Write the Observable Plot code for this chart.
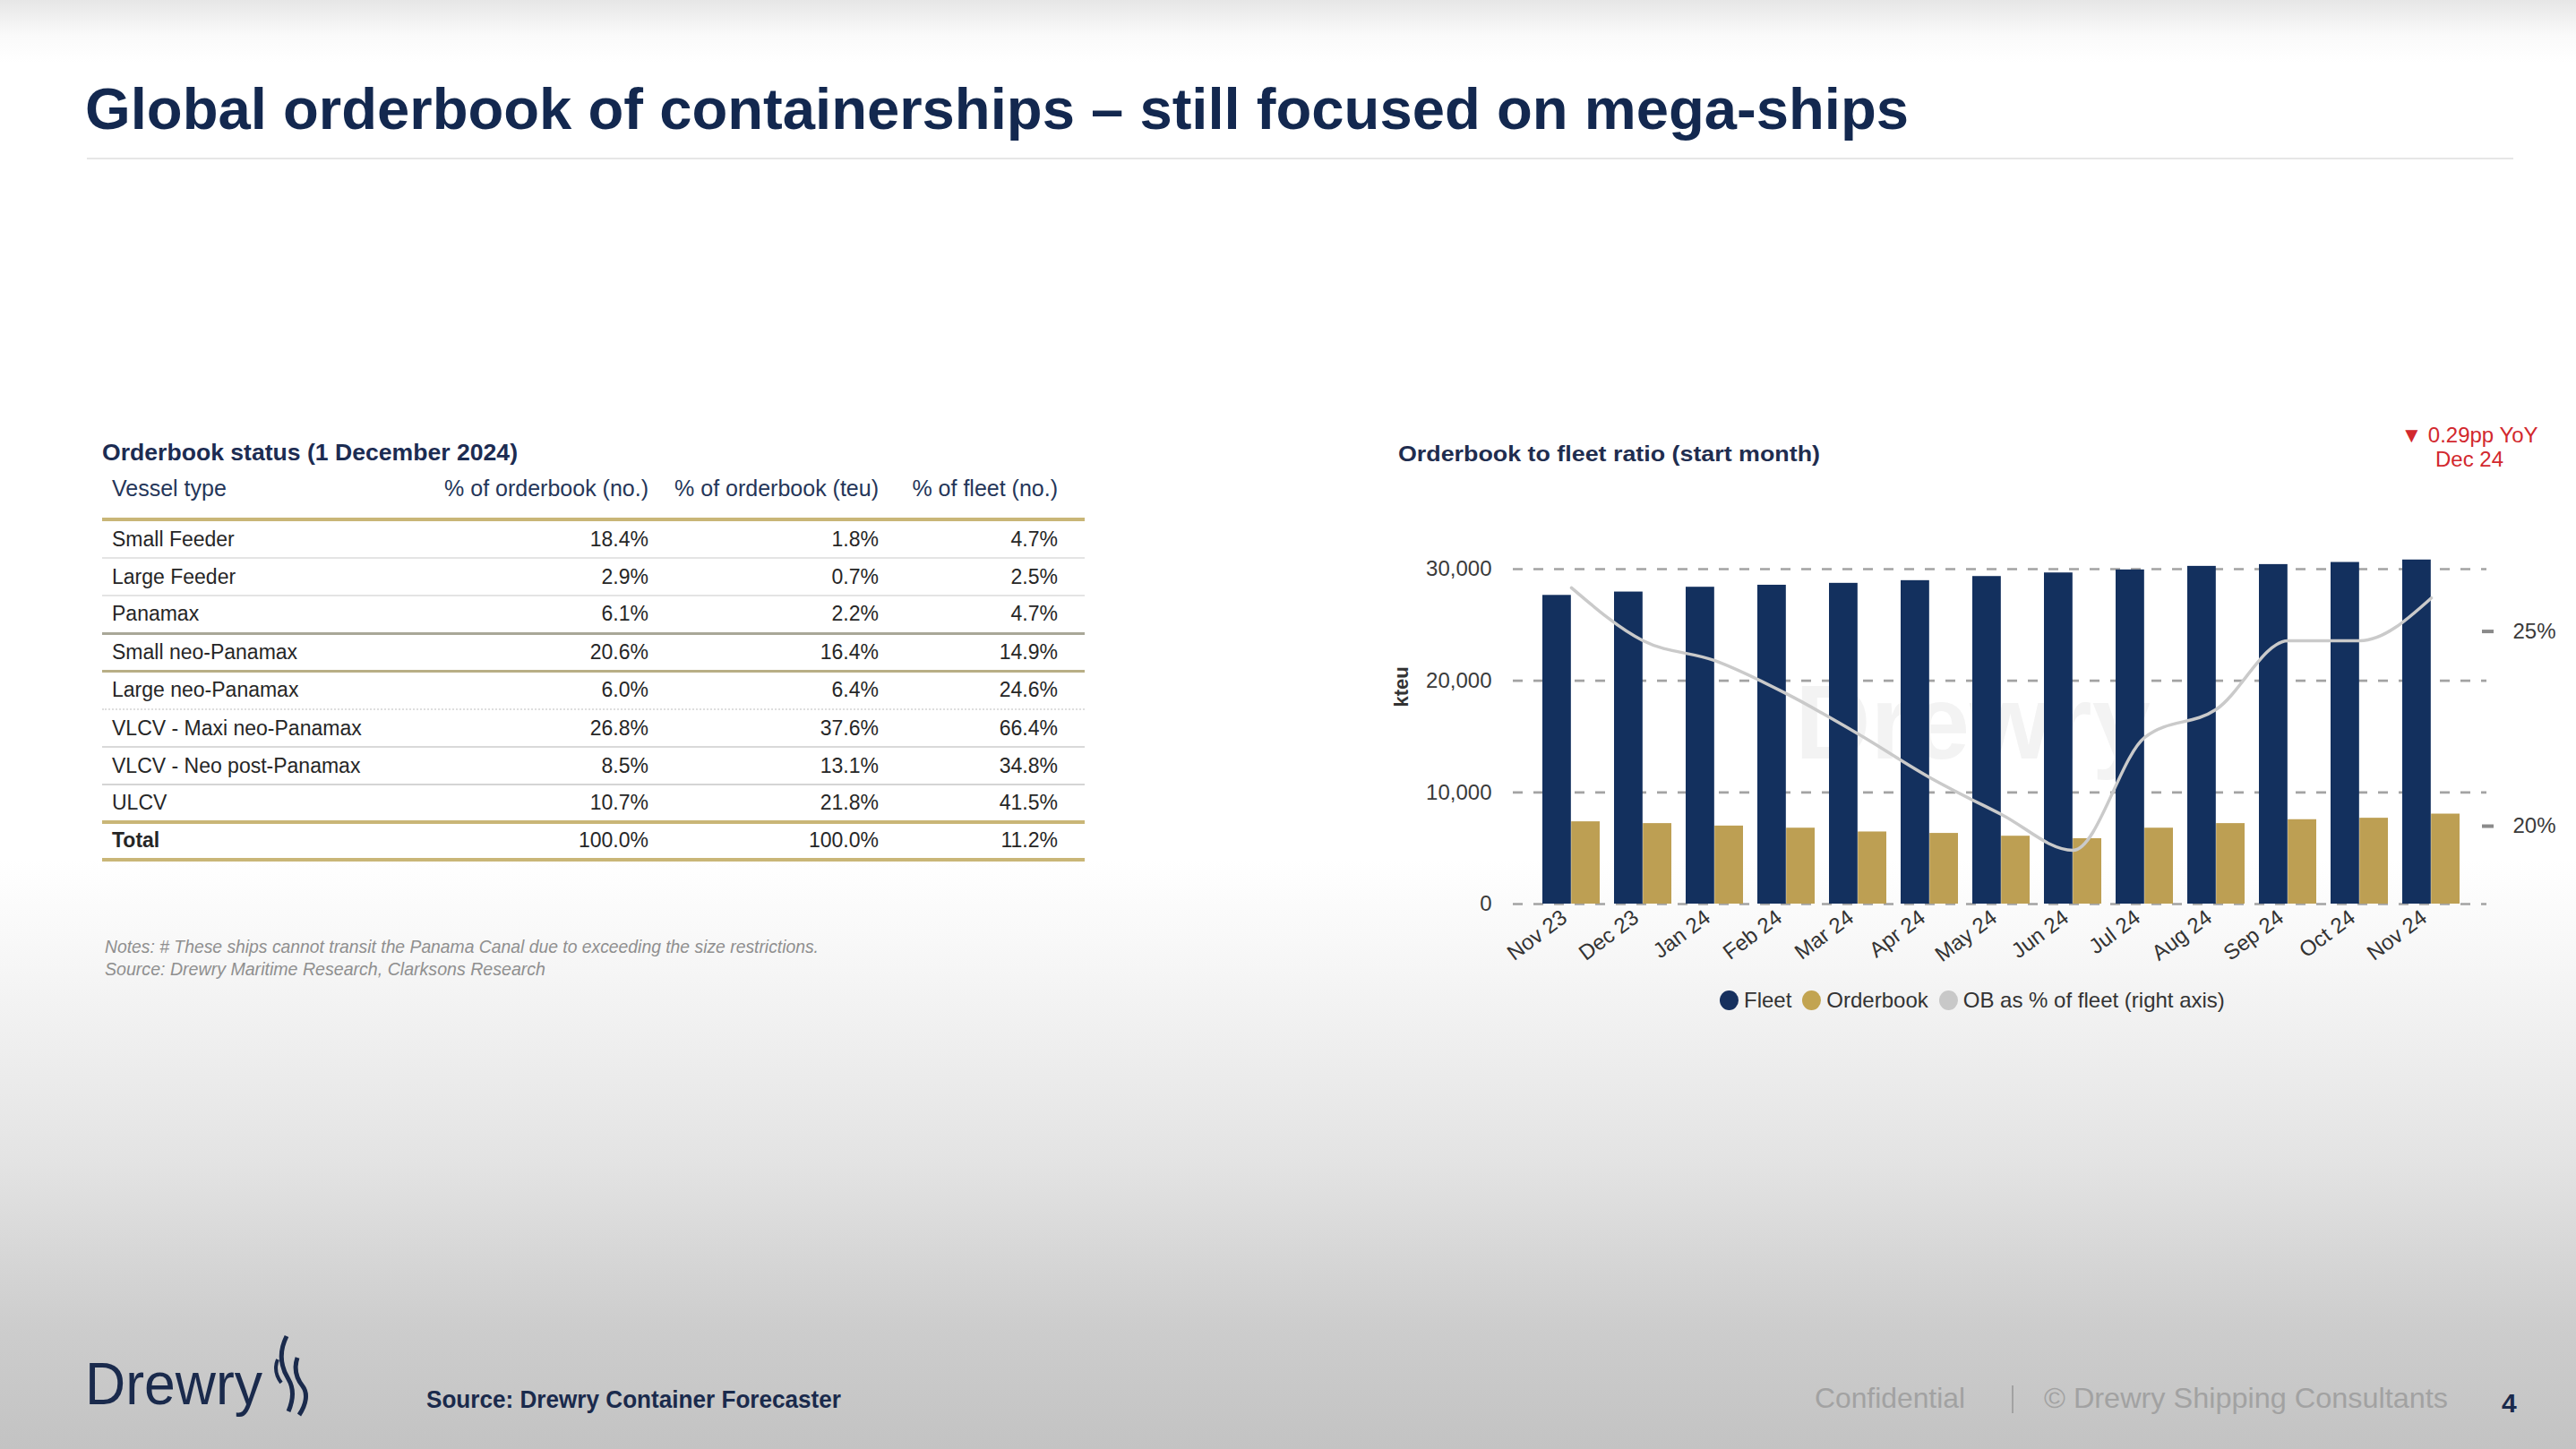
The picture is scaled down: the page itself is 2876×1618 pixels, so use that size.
<!DOCTYPE html>
<html><head><meta charset="utf-8">
<script src="https://cdn.jsdelivr.net/npm/d3@7"></script>
<script src="https://cdn.jsdelivr.net/npm/@observablehq/plot@0.6"></script>
<style>
html,body{margin:0;padding:0;}
body{width:2876px;height:1618px;position:relative;overflow:hidden;font-family:"Liberation Sans",Arial,sans-serif;
background:linear-gradient(to bottom,#e6e6e6 0px,#fafafa 40px,#ffffff 70px,#ffffff 960px,#f6f6f6 1080px,#e3e3e3 1300px,#cdcdcd 1480px,#c3c3c3 1618px);}
.abs{position:absolute;white-space:nowrap;line-height:1;}
.trow{position:absolute;left:114px;width:1097px;display:flex;align-items:center;box-sizing:border-box;font-size:23px;color:#262626;}
.trow div{box-sizing:border-box;white-space:nowrap;flex:none;}
</style></head><body>
<script>
// ---------- DATA ----------
const months = ["Nov 23","Dec 23","Jan 24","Feb 24","Mar 24","Apr 24","May 24","Jun 24","Jul 24","Aug 24","Sep 24","Oct 24","Nov 24"];
const fleet = [27650, 27950, 28380, 28560, 28730, 28970, 29340, 29660, 29930, 30250, 30410, 30600, 30820];
const orderbook = [7370, 7210, 6990, 6800, 6460, 6330, 6080, 5860, 6800, 7210, 7560, 7690, 8060];
const obPctOfFleet = [26.12, 24.76, 24.25, 23.4, 22.37, 21.25, 20.3, 19.38, 22.28, 23.0, 24.76, 24.76, 25.86];
const leftTicks = [0, 10000, 20000, 30000];
const rightTicks = [20, 25];
const rightDomain = [18.0, 26.6];
const leftDomain = [0, 30000];
const seriesNames = ["Fleet", "Orderbook", "OB as % of fleet (right axis)"];

const tableHeaders = ["Vessel type", "% of orderbook (no.)", "% of orderbook (teu)", "% of fleet (no.)"];
const vesselTypes = ["Small Feeder","Large Feeder","Panamax","Small neo-Panamax","Large neo-Panamax","VLCV - Maxi neo-Panamax","VLCV - Neo post-Panamax","ULCV","Total"];
const pctOrderbookNo = [18.4, 2.9, 6.1, 20.6, 6.0, 26.8, 8.5, 10.7, 100.0];
const pctOrderbookTeu = [1.8, 0.7, 2.2, 16.4, 6.4, 37.6, 13.1, 21.8, 100.0];
const pctFleetNo = [4.7, 2.5, 4.7, 14.9, 24.6, 66.4, 34.8, 41.5, 11.2];

// ---------- helpers ----------
function add(html, css) {
  const d = document.createElement("div");
  d.className = "abs";
  Object.assign(d.style, css);
  d.innerHTML = html;
  document.body.appendChild(d);
  return d;
}
function fit(el, w) {
  const r = el.getBoundingClientRect().width;
  el.style.transformOrigin = "left center";
  el.style.transform = `scaleX(${w / r})`;
}
const NAVY = "#13284f";
const GOLD_LINE = "#c9b677";

// ---------- title ----------
const t = add("Global orderbook of containerships \u2013 still focused on mega-ships",
  {left: "95px", top: "90px", fontSize: "64px", fontWeight: "bold", color: NAVY});
fit(t, 2036);
add("", {left: "97px", top: "176px", width: "2709px", height: "2px", background: "#e6e6e6"});

// ---------- table ----------
const tt = add("Orderbook status (1 December 2024)", {left: "114px", top: "492px", fontSize: "26px", fontWeight: "bold", color: "#1c2c52"});
fit(tt, 464);

const colW = [360, 260, 257, 220];
const colPadR = [0, 10, 10, 30];
function makeRow(cells, top, height, border, css) {
  const r = document.createElement("div");
  r.className = "trow";
  r.style.top = top + "px";
  r.style.height = height + "px";
  r.style.borderBottom = border;
  Object.assign(r.style, css || {});
  cells.forEach((c, j) => {
    const d = document.createElement("div");
    d.style.width = colW[j] + "px";
    d.style.textAlign = j === 0 ? "left" : "right";
    d.style.paddingLeft = j === 0 ? "11px" : "0";
    d.style.paddingRight = colPadR[j] + "px";
    d.innerHTML = c;
    r.appendChild(d);
  });
  document.body.appendChild(r);
  return r;
}
makeRow(tableHeaders, 520, 62, `4px solid ${GOLD_LINE}`, {alignItems: "flex-start", paddingTop: "11px", fontSize: "25px", color: "#253659"});
const sepStyles = ["2px solid #e4e4e4", "2px solid #e4e4e4", "3px solid #a9a798", "3px solid #b8ae86",
  "2px dotted #dedede", "2px solid #d9d9d9", "2px solid #d5d5d5", `4px solid ${GOLD_LINE}`, `4px solid ${GOLD_LINE}`];
const fmt = v => v.toFixed(1) + "%";
vesselTypes.forEach((v, i) => {
  const label = i === vesselTypes.length - 1 ? `<b>${v}</b>` : v;
  makeRow([label, fmt(pctOrderbookNo[i]), fmt(pctOrderbookTeu[i]), fmt(pctFleetNo[i])],
    582 + i * 42.2, 42.2, sepStyles[i]);
});

const n1 = add("Notes: # These ships cannot transit the Panama Canal due to exceeding the size restrictions.",
  {left: "117px", top: "1046px", fontSize: "21px", fontStyle: "italic", color: "#8f8f8f"});
fit(n1, 797);
const n2 = add("Source: Drewry Maritime Research, Clarksons Research",
  {left: "117px", top: "1071px", fontSize: "21px", fontStyle: "italic", color: "#8f8f8f"});
fit(n2, 492);

// ---------- chart ----------
add("Drewry", {left: "2004px", top: "748px", fontSize: "117px", fontWeight: "bold", color: "#f3f3f3", zIndex: 0});
const ct = add("Orderbook to fleet ratio (start month)", {left: "1561px", top: "495px", fontSize: "24px", fontWeight: "bold", color: "#1f2d4f"});
fit(ct, 471);
add("\u25BC 0.29pp YoY", {left: "2757px", top: "474px", fontSize: "24px", color: "#d2282e", transform: "translateX(-50%)"});
add("Dec 24", {left: "2757px", top: "501px", fontSize: "24px", color: "#d2282e", transform: "translateX(-50%)"});

const rows = months.map((m, i) => ({month: m, fleet: fleet[i], ob: orderbook[i], pct: obPctOfFleet[i]}));
const W = 1376, H = 530, mL = 189, mR = 100, mT = 75, mB = 81, insL = 14, insR = 11, pad = 0.2;
const step = (W - mL - mR - insL - insR) / (months.length - pad + 2 * pad);
const half = step * (1 - pad) / 2;
const toLeft = d3.scaleLinear().domain(rightDomain).range(leftDomain);

const chart = Plot.plot({
  width: W, height: H, marginLeft: mL, marginRight: mR, marginTop: mT, marginBottom: mB,
  style: {background: "transparent", fontFamily: "'Liberation Sans', Arial, sans-serif", fontSize: "24px", color: "#3a3a3a", maxWidth: "none"},
  x: {type: "band", domain: months, padding: pad, insetLeft: insL, insetRight: insR},
  y: {domain: leftDomain},
  marks: [
    Plot.ruleY(leftTicks, {stroke: "#a3a3a3", strokeWidth: 2.6, strokeDasharray: "11,12"}),
    Plot.barY(rows, {x: "month", y: "fleet", fill: "#13305e", insetRight: half}),
    Plot.barY(rows, {x: "month", y: "ob", fill: "#bd9f53", insetLeft: half}),
    Plot.lineY(rows, {x: "month", y: d => toLeft(d.pct), stroke: "#cacaca", strokeWidth: 3.5, curve: "monotone-x"}),
    Plot.axisY(leftTicks, {anchor: "left", tickSize: 0, tickPadding: 24, tickFormat: d3.format(","), label: null, fill: "#3a3a3a"}),
    Plot.axisY(rightTicks.map(v => toLeft(v)), {anchor: "right", tickSize: 13, tickPadding: 22, dx: -6,
      tickFormat: v => Math.round(toLeft.invert(v)) + "%", stroke: "#8a8a8a", strokeWidth: 4, label: null, fill: "#3a3a3a"}),
    Plot.axisX({tickRotate: -37, tickSize: 0, tickPadding: 12, dx: -8, label: null, fill: "#333"}),
    Plot.text(["kteu"], {text: d => d, frameAnchor: "left", dx: -125, dy: -33, rotate: -90, fontWeight: "bold", fontSize: 22, fill: "#333"})
  ]
});
const holder = add("", {left: "1500px", top: "560px", width: W + "px", height: H + "px", zIndex: 1});
holder.appendChild(chart);

// legend
const legendColors = ["#16305e", "#c2a451", "#c8c8c8"];
const lg = add("", {left: "1920px", top: "1105px", display: "flex", alignItems: "center", fontSize: "24px", color: "#333", zIndex: 2});
seriesNames.forEach((s, i) => {
  lg.insertAdjacentHTML("beforeend",
    `<span style="display:inline-block;width:21px;height:22px;border-radius:50%;background:${legendColors[i]}"></span>` +
    `<span style="margin-left:6px;margin-right:12px">${s}</span>`);
});

// ---------- footer ----------
const logo = add("Drewry", {left: "95px", top: "1511px", fontSize: "67px", color: "#1a2a4c"});
fit(logo, 198);
add(`<svg width="60" height="100" viewBox="0 0 60 100">
  <path d="M22 4 C14 20 14 36 24 52 C30 62 30 74 24 88" fill="none" stroke="#1a2a4c" stroke-width="5"/>
  <path d="M34 28 C30 40 32 50 40 60 C46 68 44 80 36 92" fill="none" stroke="#1a2a4c" stroke-width="5"/>
  <path d="M12 30 C8 40 10 48 16 56" fill="none" stroke="#1a2a4c" stroke-width="4"/>
</svg>`, {left: "298px", top: "1488px"});
const src = add("Source: Drewry Container Forecaster", {left: "476px", top: "1549px", fontSize: "28px", fontWeight: "bold", color: "#1a2a4c"});
fit(src, 463);
const conf = add("Confidential", {left: "2026px", top: "1545px", fontSize: "32px", color: "#a2a2a2"});
fit(conf, 168);
add("", {left: "2246px", top: "1547px", width: "2px", height: "31px", background: "#a2a2a2"});
const cop = add("\u00A9 Drewry Shipping Consultants", {left: "2282px", top: "1545px", fontSize: "32px", color: "#a2a2a2"});
fit(cop, 451);
add("4", {left: "2793px", top: "1552px", fontSize: "30px", fontWeight: "bold", color: "#1a2a4c"});
</script>
</body></html>
